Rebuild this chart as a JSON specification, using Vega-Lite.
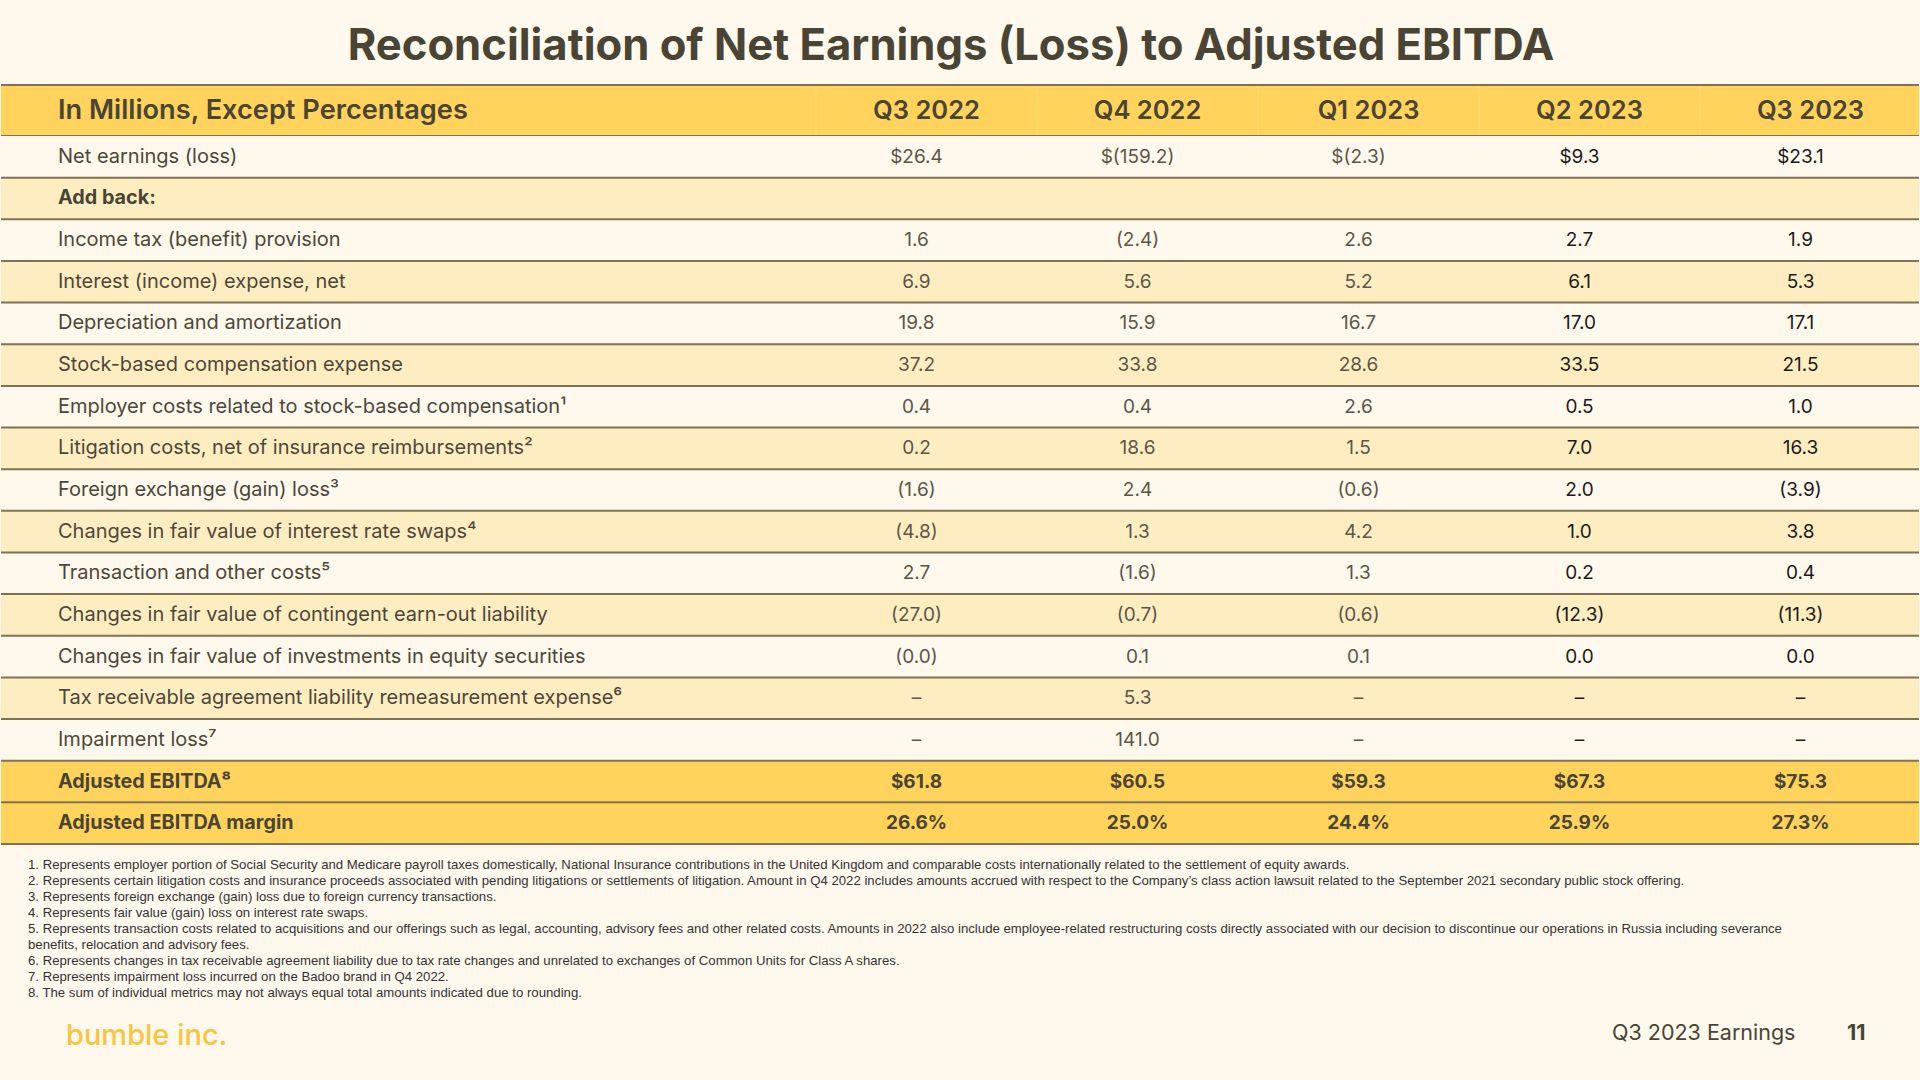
{
  "$schema": "https://vega.github.io/schema/vega-lite/v6.json",
  "width": 1920,
  "height": 1080,
  "autosize": {"type": "fit", "contains": "padding"},
  "padding": 0,
  "background": "#FFF8EC",
  "config": {"view": {"stroke": null, "fill": null}, "text": {"font": "Inter"}},
  "datasets": {
    "rows": [
      {"row": 1, "item": "Net earnings (loss)", "type": "item", "stripe": "odd", "Q3 2022": "$26.4", "Q4 2022": "$(159.2)", "Q1 2023": "$(2.3)", "Q2 2023": "$9.3", "Q3 2023": "$23.1"},
      {"row": 2, "item": "Add back:", "type": "heading", "stripe": "even"},
      {"row": 3, "item": "Income tax (benefit) provision", "type": "item", "stripe": "odd", "Q3 2022": "1.6", "Q4 2022": "(2.4)", "Q1 2023": "2.6", "Q2 2023": "2.7", "Q3 2023": "1.9"},
      {"row": 4, "item": "Interest (income) expense, net", "type": "item", "stripe": "even", "Q3 2022": "6.9", "Q4 2022": "5.6", "Q1 2023": "5.2", "Q2 2023": "6.1", "Q3 2023": "5.3"},
      {"row": 5, "item": "Depreciation and amortization", "type": "item", "stripe": "odd", "Q3 2022": "19.8", "Q4 2022": "15.9", "Q1 2023": "16.7", "Q2 2023": "17.0", "Q3 2023": "17.1"},
      {"row": 6, "item": "Stock-based compensation expense", "type": "item", "stripe": "even", "Q3 2022": "37.2", "Q4 2022": "33.8", "Q1 2023": "28.6", "Q2 2023": "33.5", "Q3 2023": "21.5"},
      {"row": 7, "item": "Employer costs related to stock-based compensation¹", "type": "item", "stripe": "odd", "Q3 2022": "0.4", "Q4 2022": "0.4", "Q1 2023": "2.6", "Q2 2023": "0.5", "Q3 2023": "1.0"},
      {"row": 8, "item": "Litigation costs, net of insurance reimbursements²", "type": "item", "stripe": "even", "Q3 2022": "0.2", "Q4 2022": "18.6", "Q1 2023": "1.5", "Q2 2023": "7.0", "Q3 2023": "16.3"},
      {"row": 9, "item": "Foreign exchange (gain) loss³", "type": "item", "stripe": "odd", "Q3 2022": "(1.6)", "Q4 2022": "2.4", "Q1 2023": "(0.6)", "Q2 2023": "2.0", "Q3 2023": "(3.9)"},
      {"row": 10, "item": "Changes in fair value of interest rate swaps⁴", "type": "item", "stripe": "even", "Q3 2022": "(4.8)", "Q4 2022": "1.3", "Q1 2023": "4.2", "Q2 2023": "1.0", "Q3 2023": "3.8"},
      {"row": 11, "item": "Transaction and other costs⁵", "type": "item", "stripe": "odd", "Q3 2022": "2.7", "Q4 2022": "(1.6)", "Q1 2023": "1.3", "Q2 2023": "0.2", "Q3 2023": "0.4"},
      {"row": 12, "item": "Changes in fair value of contingent earn-out liability", "type": "item", "stripe": "even", "Q3 2022": "(27.0)", "Q4 2022": "(0.7)", "Q1 2023": "(0.6)", "Q2 2023": "(12.3)", "Q3 2023": "(11.3)"},
      {"row": 13, "item": "Changes in fair value of investments in equity securities", "type": "item", "stripe": "odd", "Q3 2022": "(0.0)", "Q4 2022": "0.1", "Q1 2023": "0.1", "Q2 2023": "0.0", "Q3 2023": "0.0"},
      {"row": 14, "item": "Tax receivable agreement liability remeasurement expense⁶", "type": "item", "stripe": "even", "Q3 2022": "–", "Q4 2022": "5.3", "Q1 2023": "–", "Q2 2023": "–", "Q3 2023": "–"},
      {"row": 15, "item": "Impairment loss⁷", "type": "item", "stripe": "odd", "Q3 2022": "–", "Q4 2022": "141.0", "Q1 2023": "–", "Q2 2023": "–", "Q3 2023": "–"},
      {"row": 16, "item": "Adjusted EBITDA⁸", "type": "total", "stripe": "even", "Q3 2022": "$61.8", "Q4 2022": "$60.5", "Q1 2023": "$59.3", "Q2 2023": "$67.3", "Q3 2023": "$75.3"},
      {"row": 17, "item": "Adjusted EBITDA margin", "type": "total", "stripe": "odd", "Q3 2022": "26.6%", "Q4 2022": "25.0%", "Q1 2023": "24.4%", "Q2 2023": "25.9%", "Q3 2023": "27.3%"}
    ],
    "quarters": [
      {"quarter": "Q3 2022"}, {"quarter": "Q4 2022"}, {"quarter": "Q1 2023"}, {"quarter": "Q2 2023"}, {"quarter": "Q3 2023"}
    ],
    "notes": [
      {"n": 1, "note": "1. Represents employer portion of Social Security and Medicare payroll taxes domestically, National Insurance contributions in the United Kingdom and comparable costs internationally related to the settlement of equity awards."},
      {"n": 2, "note": "2. Represents certain litigation costs and insurance proceeds associated with pending litigations or settlements of litigation. Amount in Q4 2022 includes amounts accrued with respect to the Company’s class action lawsuit related to the September 2021 secondary public stock offering."},
      {"n": 3, "note": "3. Represents foreign exchange (gain) loss due to foreign currency transactions."},
      {"n": 4, "note": "4. Represents fair value (gain) loss on interest rate swaps."},
      {"n": 5, "note": "5. Represents transaction costs related to acquisitions and our offerings such as legal, accounting, advisory fees and other related costs. Amounts in 2022 also include employee-related restructuring costs directly associated with our decision to discontinue our operations in Russia including severance"},
      {"n": 6, "note": "benefits, relocation and advisory fees."},
      {"n": 7, "note": "6. Represents changes in tax receivable agreement liability due to tax rate changes and unrelated to exchanges of Common Units for Class A shares."},
      {"n": 8, "note": "7. Represents impairment loss incurred on the Badoo brand in Q4 2022."},
      {"n": 9, "note": "8. The sum of individual metrics may not always equal total amounts indicated due to rounding."}
    ]
  },
  "resolve": {"scale": {"x": "independent", "y": "independent", "color": "independent", "fill": "independent"}},
  "layer": [
    {
      "data": {"values": [{"part": "header"}]},
      "mark": {"type": "rect", "fill": "#FFD35C"},
      "encoding": {
        "y": {"datum": 0, "type": "quantitative", "scale": {"domain": [0, 1], "range": [85, 136]}, "axis": null},
        "y2": {"datum": 1}
      }
    },
    {
      "data": {"name": "quarters"},
      "mark": {"type": "rule", "stroke": "#FFDB78", "strokeWidth": 1},
      "encoding": {
        "x": {"field": "quarter", "type": "nominal", "sort": null, "bandPosition": 0, "scale": {"domain": ["Q3 2022", "Q4 2022", "Q1 2023", "Q2 2023", "Q3 2023"], "range": [815, 1920], "paddingInner": 0, "paddingOuter": 0}, "axis": null},
        "y": {"datum": 0, "type": "quantitative", "scale": {"domain": [0, 1], "range": [86, 135]}, "axis": null},
        "y2": {"datum": 1}
      }
    },
    {
      "data": {"values": [{"edge": 0}, {"edge": 1}]},
      "mark": {"type": "rule", "stroke": "#7D7456", "strokeWidth": 2},
      "encoding": {
        "y": {"field": "edge", "type": "quantitative", "scale": {"domain": [0, 1], "range": [85, 136]}, "axis": null}
      }
    },
    {
      "data": {"values": [{"h": "In Millions, Except Percentages"}]},
      "mark": {"type": "text", "align": "left", "baseline": "middle", "fontSize": 27.2, "fontWeight": 600, "fill": "#4A4434"},
      "encoding": {
        "x": {"datum": 0, "type": "quantitative", "scale": {"domain": [0, 1], "range": [57, 815]}, "axis": null},
        "y": {"datum": 0.5, "type": "quantitative", "scale": {"domain": [0, 1], "range": [85, 136]}, "axis": null},
        "text": {"field": "h"}
      }
    },
    {
      "data": {"name": "quarters"},
      "mark": {"type": "text", "align": "center", "baseline": "middle", "fontSize": 25.5, "fontWeight": 600, "fill": "#4A4434"},
      "encoding": {
        "x": {"field": "quarter", "type": "nominal", "sort": null, "scale": {"domain": ["Q3 2022", "Q4 2022", "Q1 2023", "Q2 2023", "Q3 2023"], "range": [815, 1920], "paddingInner": 0, "paddingOuter": 0}, "axis": null},
        "y": {"datum": 0.5, "type": "quantitative", "scale": {"domain": [0, 1], "range": [85, 136]}, "axis": null},
        "text": {"field": "quarter"}
      }
    },
    {
      "data": {"name": "rows"},
      "mark": {"type": "rect"},
      "encoding": {
        "y": {"field": "row", "type": "ordinal", "scale": {"domain": [1,2,3,4,5,6,7,8,9,10,11,12,13,14,15,16,17], "range": [136, 844], "paddingInner": 0, "paddingOuter": 0}, "axis": null},
        "fill": {
          "condition": {"test": "datum.type === 'total'", "value": "#FFD35C"},
          "field": "stripe", "type": "nominal", "scale": {"domain": ["odd", "even"], "range": ["#FFF8EC", "#FFEDC2"]}, "legend": null
        }
      }
    },
    {
      "data": {"name": "rows"},
      "mark": {"type": "rule", "stroke": "#7D7456", "strokeWidth": 2},
      "encoding": {
        "y": {"field": "row", "type": "ordinal", "bandPosition": 1, "scale": {"domain": [1,2,3,4,5,6,7,8,9,10,11,12,13,14,15,16,17], "range": [136, 844], "paddingInner": 0, "paddingOuter": 0}, "axis": null}
      }
    },
    {
      "data": {"name": "rows"},
      "transform": [{"filter": "datum.type === 'item'"}],
      "mark": {"type": "text", "align": "left", "baseline": "middle", "fontSize": 20, "fontWeight": 400, "fill": "#4D4739"},
      "encoding": {
        "x": {"datum": 0, "type": "quantitative", "scale": {"domain": [0, 1], "range": [57, 815]}, "axis": null},
        "y": {"field": "row", "type": "ordinal", "scale": {"domain": [1,2,3,4,5,6,7,8,9,10,11,12,13,14,15,16,17], "range": [136, 844], "paddingInner": 0, "paddingOuter": 0}, "axis": null},
        "text": {"field": "item"}
      }
    },
    {
      "data": {"name": "rows"},
      "transform": [{"filter": "datum.type !== 'item'"}],
      "mark": {"type": "text", "align": "left", "baseline": "middle", "fontSize": 19.8, "fontWeight": 700, "fill": "#4A4434"},
      "encoding": {
        "x": {"datum": 0, "type": "quantitative", "scale": {"domain": [0, 1], "range": [57, 815]}, "axis": null},
        "y": {"field": "row", "type": "ordinal", "scale": {"domain": [1,2,3,4,5,6,7,8,9,10,11,12,13,14,15,16,17], "range": [136, 844], "paddingInner": 0, "paddingOuter": 0}, "axis": null},
        "text": {"field": "item"}
      }
    },
    {
      "data": {"name": "rows"},
      "transform": [
        {"filter": "datum.type === 'item'"},
        {"fold": ["Q3 2022", "Q4 2022", "Q1 2023", "Q2 2023", "Q3 2023"], "as": ["quarter", "val"]}
      ],
      "mark": {"type": "text", "align": "center", "baseline": "middle", "fontSize": 19, "fontWeight": 400},
      "encoding": {
        "x": {"field": "quarter", "type": "nominal", "scale": {"domain": ["Q3 2022", "Q4 2022", "Q1 2023", "Q2 2023", "Q3 2023"], "range": [805, 1910], "paddingInner": 0, "paddingOuter": 0}, "axis": null},
        "y": {"field": "row", "type": "ordinal", "scale": {"domain": [1,2,3,4,5,6,7,8,9,10,11,12,13,14,15,16,17], "range": [136, 844], "paddingInner": 0, "paddingOuter": 0}, "axis": null},
        "color": {"field": "quarter", "type": "nominal", "scale": {"domain": ["Q3 2022", "Q4 2022", "Q1 2023", "Q2 2023", "Q3 2023"], "range": ["#5B5647", "#5B5647", "#5B5647", "#1C1B18", "#1C1B18"]}, "legend": null},
        "text": {"field": "val"}
      }
    },
    {
      "data": {"name": "rows"},
      "transform": [
        {"filter": "datum.type === 'total'"},
        {"fold": ["Q3 2022", "Q4 2022", "Q1 2023", "Q2 2023", "Q3 2023"], "as": ["quarter", "val"]}
      ],
      "mark": {"type": "text", "align": "center", "baseline": "middle", "fontSize": 19, "fontWeight": 700, "fill": "#4A4434"},
      "encoding": {
        "x": {"field": "quarter", "type": "nominal", "scale": {"domain": ["Q3 2022", "Q4 2022", "Q1 2023", "Q2 2023", "Q3 2023"], "range": [805, 1910], "paddingInner": 0, "paddingOuter": 0}, "axis": null},
        "y": {"field": "row", "type": "ordinal", "scale": {"domain": [1,2,3,4,5,6,7,8,9,10,11,12,13,14,15,16,17], "range": [136, 844], "paddingInner": 0, "paddingOuter": 0}, "axis": null},
        "text": {"field": "val"}
      }
    },
    {
      "data": {"name": "notes"},
      "mark": {"type": "text", "align": "left", "baseline": "middle", "font": "Liberation Sans", "fontSize": 13.2, "fill": "#333333"},
      "encoding": {
        "x": {"datum": 0, "type": "quantitative", "scale": {"domain": [0, 1], "range": [27, 1900]}, "axis": null},
        "y": {"field": "n", "type": "ordinal", "scale": {"domain": [1,2,3,4,5,6,7,8,9], "range": [856.5, 1000.5], "paddingInner": 0, "paddingOuter": 0}, "axis": null},
        "text": {"field": "note"}
      }
    },
    {
      "data": {"values": [{"t": "Reconciliation of Net Earnings (Loss) to Adjusted EBITDA"}]},
      "mark": {"type": "text", "align": "center", "baseline": "alphabetic", "fontSize": 43.6, "fontWeight": 700, "fill": "#4A4434", "x": 950, "y": 60},
      "encoding": {"text": {"field": "t"}}
    },
    {
      "data": {"values": [{"t": "bumble inc."}]},
      "mark": {"type": "text", "align": "left", "baseline": "alphabetic", "fontSize": 29, "fontWeight": 500, "fill": "#FAC43F", "x": 65, "y": 1045},
      "encoding": {"text": {"field": "t"}}
    },
    {
      "data": {"values": [{"t": "Q3 2023 Earnings"}]},
      "mark": {"type": "text", "align": "left", "baseline": "alphabetic", "fontSize": 21.5, "fontWeight": 400, "fill": "#4A4434", "x": 1611, "y": 1040},
      "encoding": {"text": {"field": "t"}}
    },
    {
      "data": {"values": [{"t": "11"}]},
      "mark": {"type": "text", "align": "left", "baseline": "alphabetic", "fontSize": 21.5, "fontWeight": 700, "fill": "#4A4434", "x": 1846, "y": 1040},
      "encoding": {"text": {"field": "t"}}
    }
  ]
}
